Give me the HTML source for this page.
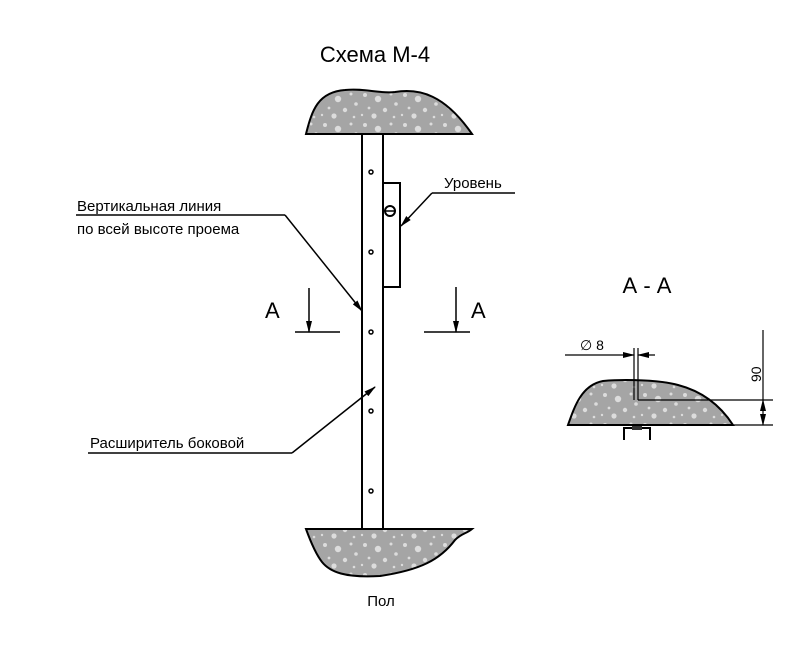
<!DOCTYPE html>
<html><head><meta charset="utf-8"><style>
html,body{margin:0;padding:0;background:#fff}
svg{display:block}
text{font-family:"Liberation Sans",sans-serif;fill:#000}
</style></head><body>
<svg width="800" height="648" viewBox="0 0 800 648" xmlns="http://www.w3.org/2000/svg">
<defs>
<marker id="ar" markerWidth="12" markerHeight="8" refX="11" refY="4" orient="auto" markerUnits="userSpaceOnUse">
<path d="M0,1 L12,4 L0,7 Z" fill="#000"/></marker>
<pattern id="dots" width="40" height="30" patternUnits="userSpaceOnUse">
<rect width="40" height="30" fill="#a5a5a5"/>
<g fill="#dcdcdc">
<circle cx="5" cy="5" r="2"/><circle cx="18" cy="9" r="3.2"/><circle cx="31" cy="4" r="1.5"/>
<circle cx="9" cy="18" r="1.4"/><circle cx="25" cy="20" r="2.2"/><circle cx="36" cy="14" r="1.8"/>
<circle cx="14" cy="26" r="2.6"/><circle cx="34" cy="27" r="1.3"/><circle cx="2" cy="25" r="1.2"/>
</g></pattern>
</defs>
<text x="375" y="62" font-size="22" text-anchor="middle">Схема М-4</text>
<!-- top concrete -->
<path d="M306,134 C312,110 318,92 345,90 C365,88 380,94 395,92 C420,88 445,95 472,134 Z" fill="url(#dots)" stroke="#000" stroke-width="2"/>
<!-- bottom concrete -->
<path d="M306,529 L472,529 C466,534 462,533 455,540 C440,560 420,570 380,576 C345,578 330,572 322,562 C315,553 310,540 306,529 Z" fill="url(#dots)" stroke="#000" stroke-width="2"/>
<!-- bar -->
<rect x="362" y="134" width="21" height="395" fill="#fff" stroke="#000" stroke-width="2"/>
<g fill="#fff" stroke="#000" stroke-width="1.5">
<circle cx="371" cy="172" r="2"/><circle cx="371" cy="252" r="2"/><circle cx="371" cy="332" r="2"/><circle cx="371" cy="411" r="2"/><circle cx="371" cy="491" r="2"/>
</g>
<!-- level -->
<rect x="383" y="183" width="17" height="104" fill="#fff" stroke="#000" stroke-width="2"/>
<circle cx="390" cy="211" r="5" fill="#fff" stroke="#000" stroke-width="2"/>
<line x1="385" y1="211" x2="395" y2="211" stroke="#000" stroke-width="1.5"/>
<!-- leaders -->
<g stroke="#000" stroke-width="1.5" fill="none">
<polyline points="432,193 515,193"/>
<line x1="432" y1="193" x2="401" y2="226" marker-end="url(#ar)"/>
<polyline points="76,215 285,215"/>
<line x1="285" y1="215" x2="362" y2="311" marker-end="url(#ar)"/>
<polyline points="88,453 292,453"/>
<line x1="292" y1="453" x2="375" y2="387" marker-end="url(#ar)"/>
<line x1="309" y1="288" x2="309" y2="332" marker-end="url(#ar)"/>
<line x1="295" y1="332" x2="340" y2="332"/>
<line x1="456" y1="287" x2="456" y2="332" marker-end="url(#ar)"/>
<line x1="424" y1="332" x2="470" y2="332"/>
</g>
<text x="77" y="211" font-size="15">Вертикальная линия</text>
<text x="77" y="234" font-size="15">по всей высоте проема</text>
<text x="90" y="448" font-size="15">Расширитель боковой</text>
<text x="444" y="188" font-size="15">Уровень</text>
<text x="265" y="318" font-size="22">А</text>
<text x="471" y="318" font-size="22">А</text>
<text x="381" y="606" font-size="15" text-anchor="middle">Пол</text>
<!-- section A-A -->
<text x="647" y="293" font-size="22" text-anchor="middle">А - А</text>
<path d="M568,425 C575,405 582,385 603,381 C625,379 660,380 678,385 C705,392 722,408 733,425 Z" fill="url(#dots)" stroke="#000" stroke-width="2"/>
<g stroke="#000" stroke-width="1.2" fill="none">
<line x1="634" y1="348" x2="634" y2="400"/>
<line x1="638" y1="348" x2="638" y2="400"/>
<line x1="638" y1="400" x2="773" y2="400"/>
<line x1="733" y1="425" x2="773" y2="425"/>
<line x1="565" y1="355" x2="634" y2="355" marker-end="url(#ar)"/>
<line x1="655" y1="355" x2="638" y2="355" marker-end="url(#ar)"/>
<line x1="763" y1="330" x2="763" y2="400"/>
<line x1="763" y1="412" x2="763" y2="400" marker-end="url(#ar)"/>
<line x1="763" y1="412" x2="763" y2="425" marker-end="url(#ar)"/>
</g>
<g stroke="#000" stroke-width="2" fill="none">
<polyline points="624,440 624,428 650,428 650,440"/>
</g>
<rect x="632" y="426" width="10" height="4" fill="#333"/>
<text x="580" y="350" font-size="14">∅ 8</text>
<text transform="translate(761,382) rotate(-90)" font-size="14">90</text>
</svg>
</body></html>
